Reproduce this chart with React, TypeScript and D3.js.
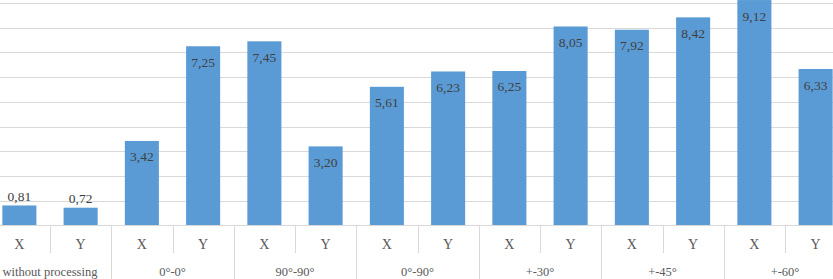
import React from "react";
import * as d3 from "d3";

const categories = ["X", "Y", "X", "Y", "X", "Y", "X", "Y", "X", "Y", "X", "Y", "X", "Y"];
const values = [0.81, 0.72, 3.42, 7.25, 7.45, 3.2, 5.61, 6.23, 6.25, 8.05, 7.92, 8.42, 9.12, 6.33];
const groups = ["without processing", "0°-0°", "90°-90°", "0°-90°", "+-30°", "+-45°", "+-60°"];
const gridTicks = [1, 2, 3, 4, 5, 6, 7, 8, 9];

const W = 833;
const H = 279;
const FONT = "Liberation Serif, Times New Roman, DejaVu Serif, serif";

export default function App() {
  const ids = categories.map((_, i) => String(i));
  const x = d3
    .scaleBand<string>()
    .domain(ids)
    .range([-11.25, 846.25])
    .paddingInner(0.444)
    .paddingOuter(0.222);
  const y = d3.scaleLinear().domain([0, 9]).range([225.5, 3]);
  const step = x.step();
  const left = (i: number) => (x(String(i)) as number) - step * 0.222;
  const fmt = (v: number) => v.toFixed(2).replace(".", ",");
  const base = y(0);
  const ts = { fontFamily: FONT } as React.CSSProperties;

  return (
    <svg
      width={W}
      height={H}
      style={{ position: "absolute", left: 0, top: 0, background: "#fff", fontFamily: FONT }}
    >
      <rect x={0} y={0} width={W} height={H} fill="#fff" />
      {gridTicks.map((t) => (
        <line key={t} x1={0} x2={W} y1={Math.round(y(t)) + 0.5} y2={Math.round(y(t)) + 0.5} stroke="#d9d9d9" strokeWidth={1} />
      ))}
      {values.map((v, i) => (
        <rect
          key={i}
          x={x(String(i))}
          y={y(v)}
          width={x.bandwidth()}
          height={base - y(v)}
          fill="#5b9bd5"
        />
      ))}
      <line x1={0} x2={W} y1={base} y2={base} stroke="#d9d9d9" strokeWidth={1} />
      {categories.map((_, i) => {
        if (i === 0) return null;
        const xx = Math.round(left(i)) + 0.5;
        const long = i % 2 === 0;
        return <line key={"t" + i} x1={xx} x2={xx} y1={base} y2={long ? H : 253} stroke="#d9d9d9" strokeWidth={1} />;
      })}
      {values.map((v, i) => {
        const cx = (x(String(i)) as number) + x.bandwidth() / 2;
        const inside = v > 1.5;
        const ty = inside ? y(v) + 20.5 : y(v) - 4.5;
        return (
          <text key={"l" + i} x={cx} y={ty} textAnchor="middle" fontSize={13.5} fill="#404040" style={ts}>
            {fmt(v)}
          </text>
        );
      })}
      {categories.map((c, i) => (
        <text key={"c" + i} x={(x(String(i)) as number) + x.bandwidth() / 2} y={248.5} textAnchor="middle" fontSize={14} fill="#595959" style={ts}>
          {c}
        </text>
      ))}
      {groups.map((g, gi) => {
        const cx = left(gi * 2 + 1);
        return (
          <text key={"g" + gi} x={cx} y={275.5} textAnchor="middle" fontSize={12.5} fill="#595959" style={ts}>
            {g}
          </text>
        );
      })}
    </svg>
  );
}
